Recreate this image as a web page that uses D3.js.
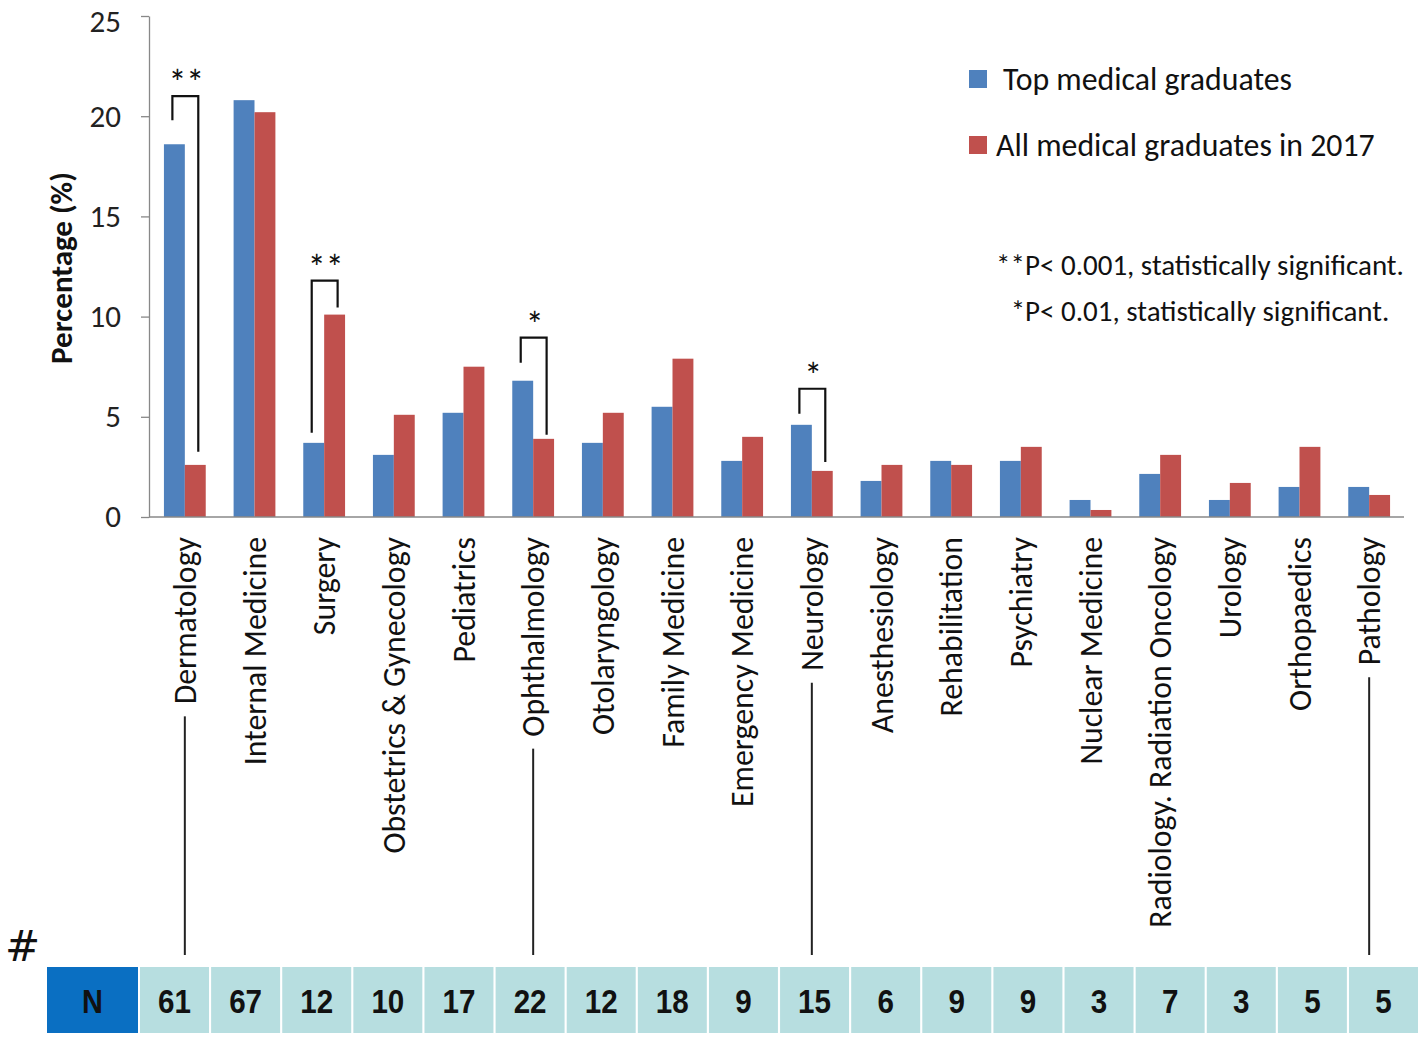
<!DOCTYPE html>
<html><head><meta charset="utf-8">
<script src="https://cdn.jsdelivr.net/npm/d3@7"></script>
<style>
html,body{margin:0;padding:0;background:#fff;}
svg{display:block;}
</style></head>
<body>
<svg id="chart" width="1418" height="1042"></svg>
<script>
const categories = ["Dermatology","Internal Medicine","Surgery","Obstetrics & Gynecology","Pediatrics","Ophthalmology","Otolaryngology","Family Medicine","Emergency Medicine","Neurology","Anesthesiology","Rehabilitation","Psychiatry","Nuclear Medicine","Radiology. Radiation Oncology","Urology","Orthopaedics","Pathology"];
const topGrads = [18.6,20.8,3.7,3.1,5.2,6.8,3.7,5.5,2.8,4.6,1.8,2.8,2.8,0.85,2.15,0.85,1.5,1.5];
const allGrads = [2.6,20.2,10.1,5.1,7.5,3.9,5.2,7.9,4.0,2.3,2.6,2.6,3.5,0.35,3.1,1.7,3.5,1.1];
const counts = [61,67,12,10,17,22,12,18,9,15,6,9,9,3,7,3,5,5];
const seriesNames = ["Top medical graduates","All medical graduates in 2017"];
const yTicks = [0,5,10,15,20,25];
const brackets = [
  {cat:"Dermatology", label:"**", top:21.0, leftEnd:19.8, rightEnd:3.25},
  {cat:"Surgery", label:"**", top:11.8, leftEnd:4.2, rightEnd:10.45},
  {cat:"Ophthalmology", label:"*", top:8.95, leftEnd:7.7, rightEnd:4.1},
  {cat:"Neurology", label:"*", top:6.4, leftEnd:5.15, rightEnd:2.75}
];
const leaderCats = ["Dermatology","Ophthalmology","Neurology","Pathology"];
const notes = ["**P< 0.001, statistically significant.","*P< 0.01, statistically significant."];

const colors = ["#4F81BD","#C0504D"];
const FONT = "Carlito, Calibri, Lato, 'Open Sans', sans-serif";
const NARROW = "'Liberation Sans', Arial, sans-serif";
const svg = d3.select("#chart");

const x0 = d3.scaleBand().domain(categories).range([150,1404]).paddingInner(0.4).paddingOuter(0.2);
const x1 = d3.scaleBand().domain([0,1]).range([0,x0.bandwidth()]);
const y = d3.scaleLinear().domain([0,25]).range([517,16]);

// bars
const g = svg.append("g");
categories.forEach((c,i)=>{
  [topGrads[i], allGrads[i]].forEach((v,k)=>{
    g.append("rect")
      .attr("x", x0(c)+x1(k)).attr("width", x1.bandwidth())
      .attr("y", y(v)).attr("height", y(0)-y(v))
      .attr("fill", colors[k]);
  });
});

// y axis
const yAxis = svg.append("g").attr("transform","translate(149,0)")
  .call(d3.axisLeft(y).tickValues(yTicks).tickSize(8).tickSizeOuter(0).tickPadding(20));
yAxis.select(".domain").attr("stroke","#888").attr("stroke-width",1.3);
yAxis.selectAll(".tick line").attr("stroke","#888").attr("stroke-width",1.3);
yAxis.selectAll(".tick text").attr("font-family",FONT).attr("font-size",31).attr("fill","#222")
  .attr("dy", d => d === 25 ? "0.5em" : "0.32em");

// x axis line
svg.append("line").attr("x1",149).attr("x2",1404).attr("y1",y(0)).attr("y2",y(0))
  .attr("stroke","#888").attr("stroke-width",1.5);

// y title
svg.append("text").attr("transform","translate(72,268) rotate(-90)")
  .attr("text-anchor","middle").attr("font-family",FONT).attr("font-weight","bold")
  .attr("font-size",31).attr("fill","#111").text("Percentage (%)");

// category labels
const labels = svg.append("g");
const labelEnds = {};
categories.forEach(c=>{
  const cx = x0(c)+x0.bandwidth()/2;
  const t = labels.append("text")
    .attr("transform",`translate(${cx},537) rotate(-90)`)
    .attr("text-anchor","end").attr("dy","0.35em")
    .attr("font-family",FONT).attr("font-size",31.8).attr("fill","#111").text(c);
  labelEnds[c] = 537 + t.node().getComputedTextLength();
});

// leader lines
leaderCats.forEach(c=>{
  const cx = x0(c)+x0.bandwidth()/2;
  svg.append("line").attr("x1",cx).attr("x2",cx)
    .attr("y1",labelEnds[c]+12).attr("y2",955)
    .attr("stroke","#222").attr("stroke-width",2);
});

// brackets
brackets.forEach(b=>{
  const bx = x0(b.cat);
  const lx = bx + x1(0) + x1.bandwidth()/2 - 2;
  const rx = bx + x1(1) + x1.bandwidth()/2 + 3;
  svg.append("path")
    .attr("d",`M${lx},${y(b.leftEnd)}V${y(b.top)}H${rx}V${y(b.rightEnd)}`)
    .attr("fill","none").attr("stroke","#111").attr("stroke-width",2.2);
  svg.append("text").attr("x",(lx+rx)/2+1).attr("y",y(b.top)-1)
    .attr("text-anchor","middle").attr("font-family",FONT).attr("font-size",36)
    .attr("fill","#111").text(b.label);
});

// legend
seriesNames.forEach((s,k)=>{
  const ly = [79,145][k];
  svg.append("rect").attr("x",969).attr("y",ly-9).attr("width",18).attr("height",18).attr("fill",colors[k]);
  svg.append("text").attr("x",[1003,996][k]).attr("y",ly).attr("dy","0.35em")
    .attr("font-family",FONT).attr("font-size",31.8).attr("fill","#111").text(s);
});

// notes
notes.forEach((n,k)=>{
  svg.append("text").attr("x",1200).attr("y",[265,311][k]).attr("dy","0.35em")
    .attr("text-anchor","middle").attr("font-family",FONT).attr("font-size",29)
    .attr("fill","#111").text(n);
});

// table
svg.append("text").attr("x",5).attr("y",946).attr("dy","0.35em")
  .attr("font-family","'DejaVu Sans', sans-serif").attr("font-size",42).attr("fill","#111").text("#");
svg.append("rect").attr("x",47).attr("y",967).attr("width",91).attr("height",66).attr("fill","#0A6FC2");
svg.append("text").attr("transform","translate(92.5,1001) scale(0.85,1)").attr("dy","0.36em").attr("text-anchor","middle")
  .attr("font-family",NARROW).attr("font-weight","bold").attr("font-size",34).attr("fill","#111").text("N");
const xc = d3.scaleBand().domain(d3.range(counts.length)).range([140,1418]).paddingInner(0.03);
counts.forEach((n,i)=>{
  svg.append("rect").attr("x",xc(i)).attr("y",967).attr("width",xc.bandwidth()).attr("height",66).attr("fill","#B7DEE0");
  svg.append("text").attr("transform",`translate(${xc(i)+xc.bandwidth()/2},1001) scale(0.87,1)`)
    .attr("dy","0.36em").attr("text-anchor","middle")
    .attr("font-family",NARROW).attr("font-weight","bold").attr("font-size",34).attr("fill","#111").text(n);
});
</script>
</body></html>
